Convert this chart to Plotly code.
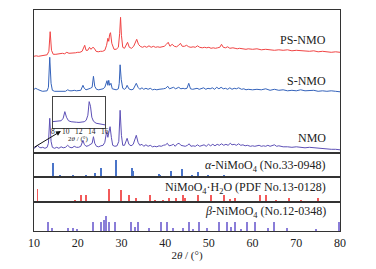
import plotly.graph_objects as go
from plotly.subplots import make_subplots

# ---- XRD patterns (2theta, intensity, offset already included) ----
ps_x = [10.0,10.5,11,11.5,12,12.5,13.0,13.4,13.7,14.0,14.4,15,15.5,16,16.5,17,17.5,18,18.5,19,19.5,20,20.5,21,21.3,21.6,21.9,22.3,22.7,23.0,23.5,23.8,24.2,24.7,25.2,25.7,26.2,26.6,26.9,27.1,27.3,27.5,27.8,28.3,28.8,29.3,29.6,29.8,30.0,30.3,30.7,31.1,31.4,31.8,32.3,32.8,33.2,33.5,33.9,34.3,34.8,35.3,35.8,36.3,36.8,37.3,37.8,38.3,38.8,39.3,39.8,40.3,40.7,41.1,41.6,42.1,42.6,43.1,43.5,43.9,44.4,44.9,45.4,45.9,46.4,46.9,47.4,47.9,48.5,49,49.5,50,50.5,51,51.5,52,52.5,52.9,53.3,53.8,54.3,54.8,55.5,56,56.5,57,57.5,58,58.5,59,60,61,62,63,64,65,66,67,68,69,70,71,72,73,74,75,76,77,78,79,80]
ps_y = [97,97.5,97,97.5,98,98,98.5,102,121.6,103,99,99,99.5,99.5,100,99.5,101,100,100,100.5,100.5,101,101,102,105,108,103,103,106,104,106,105,102,101.5,102,102,103,108,115,112,119,120.6,110,104,104,106,120,136,118,106,105,108,111,106,105,107,112,114,109,107,106,107,106,107.5,106,107,106,106.5,106,106.5,107,109,111,107,109,107,106.5,108,110,107,107,108,106.5,106,106.5,106,107.5,106,105.5,106,105.5,106,105,105.5,105,105.5,106,109,106,105.5,106.5,105,105.5,105,104.5,105,104.5,104.5,104,104.5,104,104.5,103.5,104,103.5,103,103.5,103,103.5,102.5,103,102.5,102.5,102,102.5,101.5,102,101.5,101,101.5,101]

s_x = [10.0,10.4,10.8,11.2,11.6,12,12.5,13,13.3,13.6,13.9,14.2,14.7,15.2,15.7,16.2,16.7,17.2,17.7,18.2,18.7,19.2,19.7,20.2,20.7,21.2,21.5,21.9,22.4,22.9,23.3,23.6,23.9,24.3,24.8,25.3,25.8,26.2,26.5,26.7,26.9,27.1,27.3,27.6,27.9,28.3,28.8,29.3,29.5,29.7,29.95,30.3,30.7,31.0,31.3,31.7,32.2,32.7,33.1,33.4,33.8,34.2,34.7,35.1,35.6,36.1,36.6,37.1,37.6,38.1,38.6,39.1,39.6,40.1,40.6,41.0,41.5,41.9,42.4,42.8,43.1,43.6,44.1,44.5,45.0,45.4,45.8,46.3,46.8,47.3,47.8,48.3,48.8,49.3,49.8,50.3,50.8,51.3,51.8,52.3,52.8,53.3,53.8,54.3,54.8,55.3,55.8,56.3,56.8,57.5,58,58.5,59,60,61,62,63,64,65,66,67,68,69,70,71,72,73,74,75,76,77,78,79,80]
s_y = [64,65,64,63,62.5,62,62,62.5,66,96,70,63,62,62,62.5,62,62.5,62,63.5,62.5,62.5,63,62.5,62.5,63,68,65,63.5,64,65,66,77,67,64,63.5,64,64.5,66,70,72.6,68,73,68,70,64.5,64,63.5,64.5,70,88.5,74,65,64,65,68,64.5,63.5,64,68,70,66,64,65.5,64,65,64,65,63.5,64,63.5,64,64,64.5,65,67,64.5,65,66,64.5,65,66,64.5,65,64.5,65,70,64.5,64,64.5,65,64,64.5,65.5,64,65,64.5,65.5,64,66,64.5,66,64.5,65,64,65.5,64,65,64.5,65.5,64,64.5,63.5,64,63.5,64,63.5,64.5,63,64,63,63.5,62.5,63,62.5,63.5,62.5,62.5,63,62,62.5,62,62.5,62,61.5]

n_x = [10,10.4,10.8,11.2,11.6,12,12.5,13,13.3,13.6,13.9,14.2,14.7,15.2,15.7,16.2,16.7,17.2,17.7,18.2,18.7,19.2,19.7,20.2,20.7,21.2,21.5,21.9,22.4,22.9,23.3,23.6,23.9,24.3,24.8,25.3,25.8,26.2,26.6,26.9,27.2,27.4,27.7,28.0,28.5,29.0,29.4,29.7,30.0,30.3,30.7,31.1,31.3,31.7,32.2,32.7,33.1,33.4,33.8,34.2,34.7,35.1,35.6,36.1,36.6,37.1,37.6,38.1,38.6,39.1,39.6,40.1,40.5,40.9,41.4,41.9,42.3,42.8,43.2,43.6,44.1,44.6,45.1,45.5,45.9,46.4,46.9,47.4,47.9,48.4,48.9,49.4,49.9,50.4,50.9,51.4,51.9,52.4,52.9,53.4,53.9,54.4,54.9,55.3,55.8,56.3,56.8,57.3,57.8,58.3,58.8,59.5,60,60.5,61,61.5,62,62.5,63,63.5,64,64.5,65,65.5,66,66.5,67,68,69,70,71,72,73,74,75,76,77,78,79,80]
n_y = [5,6,8,6,5.5,6,5,6,10,35,12,6,5,6,5,6.5,5.5,6,8,6,5.5,7,6,6,7,13,9,7,7.5,9,10,16.6,10,7,6.5,7.5,8,11,21.6,16,22,26.6,16,8,7,7.5,12,43,18,8,8,12,15,9,7.5,9,15,18,11,8,9,7,8.5,7,8,6.5,7,6.5,7.5,7,8,8.5,10,7.5,8,9,7,9.5,10,8,7.5,7,8,9.5,7,7.5,7,8.5,7,8,8.5,7,9,7.5,9,7.5,9,8,9.5,8,9,8,10,8.5,9,8,9.5,8,8.5,7.5,8,7,7.5,7,7.5,8,7,7.5,7,8,7,7.5,8.5,7,7.5,7,6.5,6.5,6,6.5,6,5.5,6,5.5,5,5,4.5,4,4,3.5]

# inset (8-16 deg) of NMO
ins_x = [8.0,8.3,8.6,9.0,9.3,9.6,9.85,10.1,10.4,10.8,11.2,11.6,12,12.4,12.8,13.1,13.35,13.55,13.75,13.95,14.2,14.6,15,15.4,15.8,16]
ins_y = [6.6,6.8,6.5,7,7.5,10,16.6,11,7.5,6.5,6,6,5.8,6,6.5,8,13,26.6,22,11,7,5,4.5,4,3.5,3.3]

# ---- standard patterns (stick positions, relative heights) ----
alpha_pos = [14.3,15.9,18.9,22.0,23.9,25.3,28.8,32.3,32.5,32.7,38.6,38.8,41.3,43.8,46.2,47.6,49.7,53.4]
alpha_h = [13.4,0.8,1.7,0.8,3.4,8.4,16.7,8,8.4,5,2.7,1.5,5,7.7,1.7,4.7,1,1]

hyd_pos = [10.8,19.3,20.7,21.8,27.2,29.8,31.8,33.3,36.5,37.6,39.6,40.9,42.4,44.1,44.6,47.5,50.4,53.5,54.8,56.0,58.2,61.6,63.0,65.4,68.3,71.1,73.4,74.9]
hyd_h = [13.3,2.3,8,8,13.3,13,7.6,5,7.3,3,3,5,5,7.3,5,7.3,7.3,7.3,3.3,5,1.3,8,8,2.3,5,2.3,1.3,5]

beta_pos = [13.1,14.2,17.7,18.9,19.8,23.4,25.3,26.0,26.4,27.2,28.5,32.2,33.2,33.7,36.2,39.05,40.5,41.8,44.0,45.5,46.3,47.7,49.5,52.4,54.1,55.1,56.0,57.3,58.8,60.6,63.6,64.9,67.8,74.5,79.7]
beta_h = [8.7,2.7,2.7,2.7,1.5,8.7,8.7,11,14.3,8.7,8.7,8.7,4,8.7,2.7,8.7,8.7,2.7,2.7,8.7,2,8.7,2.7,8.7,8.7,4,8.7,2,8.7,8.7,2.7,8.7,2.7,2,8.7]

labels = ["PS-NMO", "S-NMO", "NMO",
          "<i>α</i>-NiMoO<sub>4</sub> (No.33-0948)",
          "NiMoO<sub>4</sub>·H<sub>2</sub>O (PDF No.13-0128)",
          "<i>β</i>-NiMoO<sub>4</sub> (No.12-0348)"]
x_ticks = [10, 20, 30, 40, 50, 60, 70, 80]
inset_ticks = [8, 10, 12, 14, 16]

RED = "#f04444"
BLUE = "#3462ba"
PURPLE = "#5d50b6"
FONT = "Liberation Serif"

fig = make_subplots(rows=4, cols=1, shared_xaxes=True, vertical_spacing=0,
                    row_heights=[143.3, 23.4, 25.6, 28.7])

fig.add_trace(go.Scatter(x=ps_x, y=ps_y, mode="lines", line=dict(color=RED, width=1.0)), row=1, col=1)
fig.add_trace(go.Scatter(x=s_x, y=s_y, mode="lines", line=dict(color=BLUE, width=1.0)), row=1, col=1)
fig.add_trace(go.Scatter(x=n_x, y=n_y, mode="lines", line=dict(color=PURPLE, width=1.0)), row=1, col=1)

fig.add_trace(go.Bar(x=alpha_pos, y=alpha_h, width=0.22, marker=dict(color="#4a74c8", line=dict(width=0))), row=2, col=1)
fig.add_trace(go.Bar(x=hyd_pos, y=hyd_h, width=0.22, marker=dict(color="#f25a5a", line=dict(width=0))), row=3, col=1)
fig.add_trace(go.Bar(x=beta_pos, y=beta_h, width=0.22, marker=dict(color="#8a7dd8", line=dict(width=0))), row=4, col=1)

# inset
fig.add_trace(go.Scatter(x=ins_x, y=ins_y, mode="lines", line=dict(color=PURPLE, width=1.0),
                         xaxis="x5", yaxis="y5"))

axis_common = dict(showline=True, linecolor="#333333", linewidth=1.2, mirror=True,
                   showgrid=False, zeroline=False, ticks="")
for r, rng in zip([1, 2, 3, 4], [[0, 143.3], [0, 23.4], [0, 25.6], [0, 28.7]]):
    fig.update_yaxes(range=rng, showticklabels=False, row=r, col=1, **axis_common)
    fig.update_xaxes(range=[10, 80], row=r, col=1, **axis_common)
fig.update_xaxes(tickvals=x_ticks, ticktext=[str(t) for t in x_ticks], showticklabels=True,
                 tickfont=dict(family=FONT, size=12, color="#222"),
                 title=dict(text="2<i>θ</i> / (°)", font=dict(family=FONT, size=11, color="#222"), standoff=0),
                 row=4, col=1)

fig.update_layout(
    xaxis5=dict(domain=[0.061, 0.233], anchor="y5", range=[8, 16], showline=True, linecolor="#444",
                linewidth=1.2, mirror=True, showgrid=False, zeroline=False, ticks="",
                showticklabels=False),
    yaxis5=dict(domain=[0.465, 0.608], anchor="x5", range=[0, 31.6], showline=True, linecolor="#444",
                linewidth=1.2, mirror=True, showgrid=False, zeroline=False, showticklabels=False, ticks=""),
)

# inset tick labels, placed on the inset's own x scale
for t in inset_ticks:
    fig.add_annotation(text=str(t), xref="x5", yref="paper", x=t, y=0.451,
                       xanchor="center", yanchor="middle", showarrow=False,
                       font=dict(family=FONT, size=7.5, color="#222"))

label_y = [0.864, 0.679, 0.422, 0.295, 0.196, 0.085]
for txt, yy in zip(labels, label_y):
    fig.add_annotation(text=txt, xref="paper", yref="paper", x=0.961, y=yy,
                       xanchor="right", yanchor="middle", showarrow=False,
                       font=dict(family=FONT, size=12, color="#222"))

# inset axis title
fig.add_annotation(text="2<i>θ</i> / (°)", xref="paper", yref="paper", x=0.147, y=0.417,
                   xanchor="center", yanchor="middle", showarrow=False,
                   font=dict(family=FONT, size=7, color="#222"))

fig.add_annotation(text="", xref="paper", yref="paper", x=0.088, y=0.452,
                   ax=-28, ay=17, showarrow=True, arrowhead=2, arrowsize=1,
                   arrowwidth=1, arrowcolor="#111")

fig.update_layout(width=376, height=269, margin=dict(l=34, r=36, t=10, b=38),
                  paper_bgcolor="white", plot_bgcolor="white", showlegend=False,
                  bargap=0)

fig.write_html("out.html", config={"displayModeBar": False},
               post_script="document.body.style.margin='0';")
